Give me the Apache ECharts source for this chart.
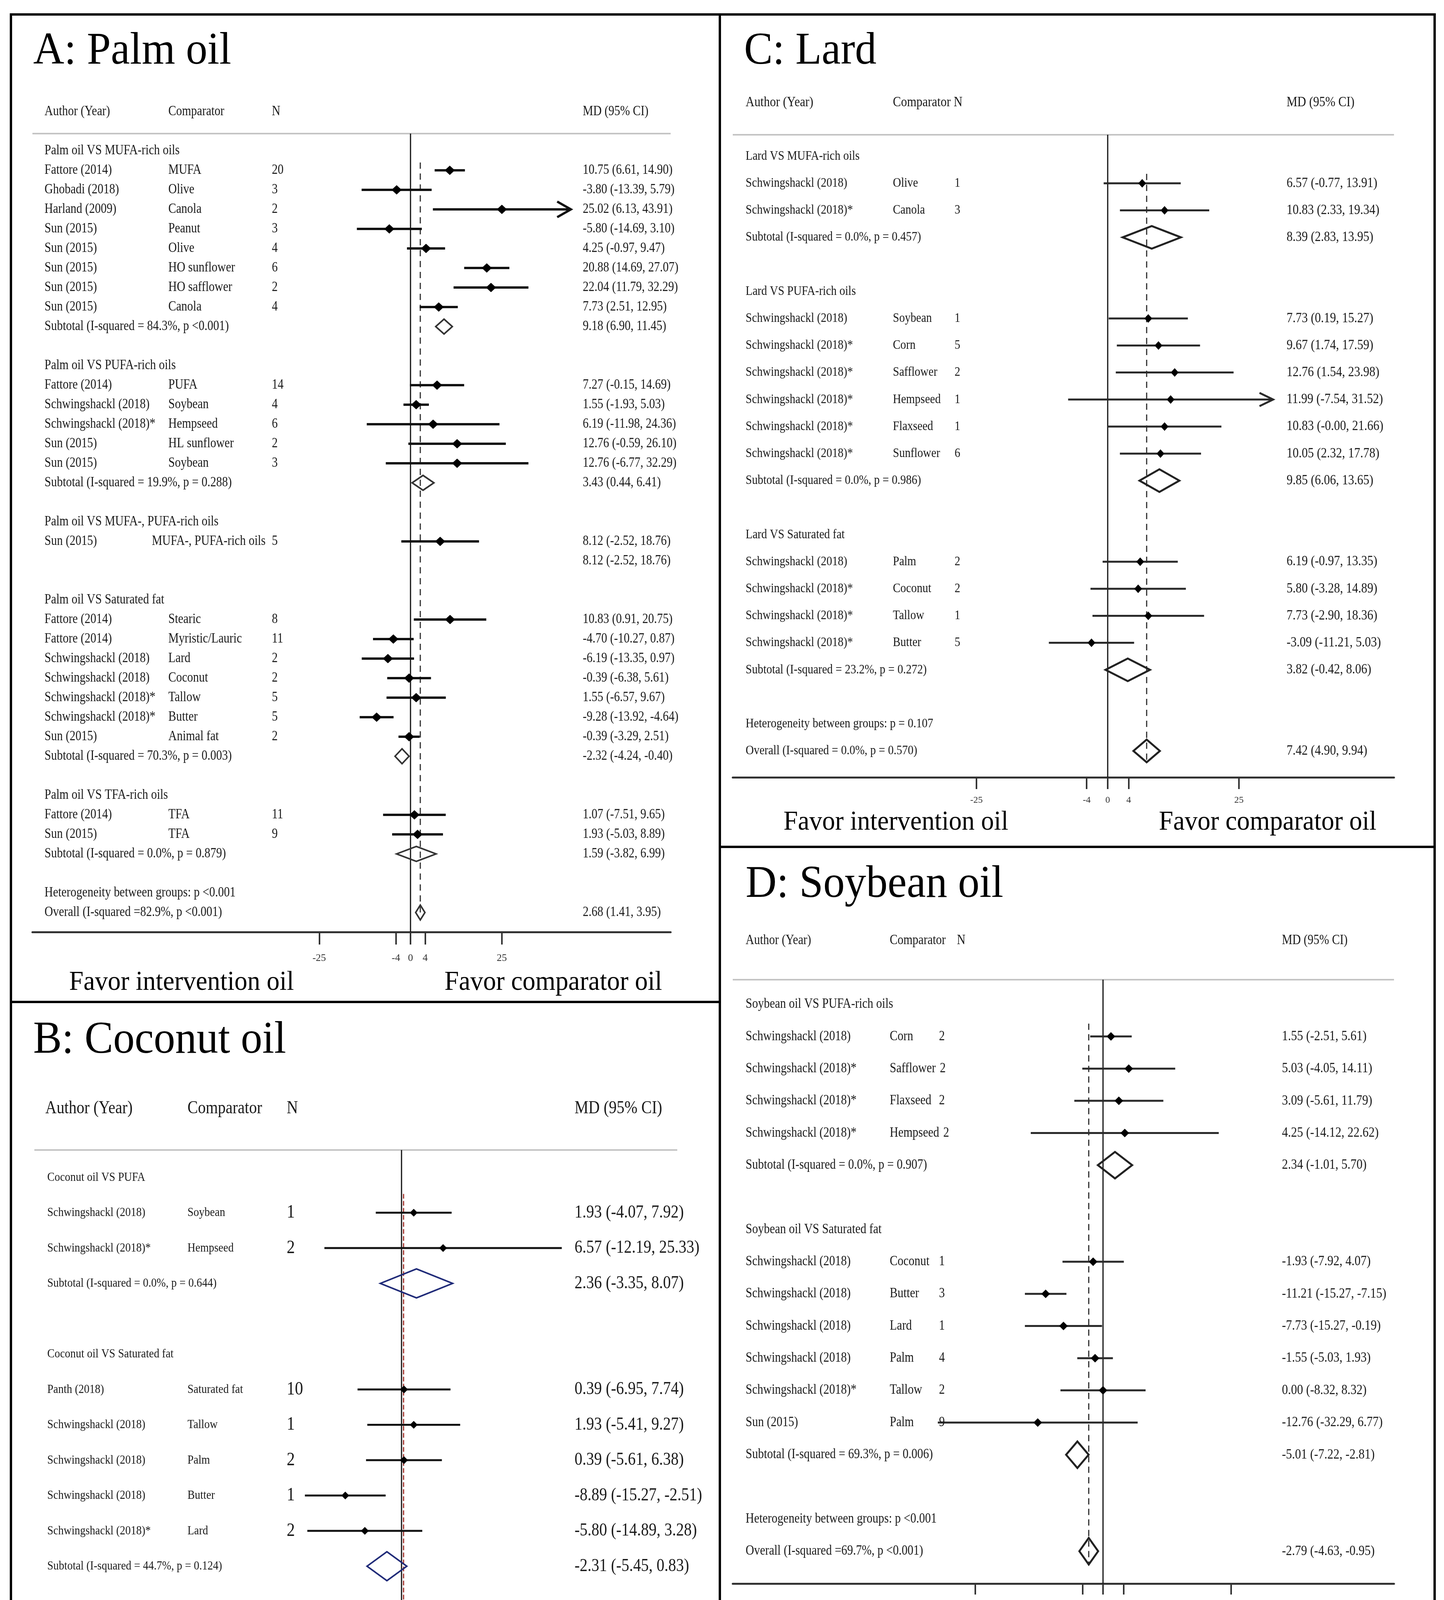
<!DOCTYPE html>
<html><head><meta charset="utf-8">
<script src="https://cdn.jsdelivr.net/npm/echarts@6/dist/echarts.min.js"></script>
<style>html,body{margin:0;padding:0;background:#fff}#c{width:3697px;height:5113px}</style>
</head><body><div id="c"></div>
<script>
// ---------------- data ----------------
const ticksMain = [-25, -4, 0, 4, 25];
const ticksRice = [-4, 0, 4];
const B_ = () => ['', '', '', null, null, null, 'b'];
const G_ = t => [t, '', '', null, null, null, 'g'];
const H_ = t => [t, '', '', null, null, null, 'h'];
// row: [label, comparator, N, md, lo, hi, kind]
// kinds: g group, s study, a study (arrow), t subtotal, u subtotal text only, h heterogeneity, o overall, b blank, x stray
const rowsPalm = [
  G_('Palm oil VS MUFA-rich oils'),
  ['Fattore (2014)', 'MUFA', '20', 10.75, 6.61, 14.90, 's'],
  ['Ghobadi (2018)', 'Olive', '3', -3.80, -13.39, 5.79, 's'],
  ['Harland (2009)', 'Canola', '2', 25.02, 6.13, 43.91, 'a'],
  ['Sun (2015)', 'Peanut', '3', -5.80, -14.69, 3.10, 's'],
  ['Sun (2015)', 'Olive', '4', 4.25, -0.97, 9.47, 's'],
  ['Sun (2015)', 'HO sunflower', '6', 20.88, 14.69, 27.07, 's'],
  ['Sun (2015)', 'HO safflower', '2', 22.04, 11.79, 32.29, 's'],
  ['Sun (2015)', 'Canola', '4', 7.73, 2.51, 12.95, 's'],
  ['Subtotal (I-squared = 84.3%, p <0.001)', '', '', 9.18, 6.90, 11.45, 't'],
  B_(),
  G_('Palm oil VS PUFA-rich oils'),
  ['Fattore (2014)', 'PUFA', '14', 7.27, -0.15, 14.69, 's'],
  ['Schwingshackl (2018)', 'Soybean', '4', 1.55, -1.93, 5.03, 's'],
  ['Schwingshackl (2018)*', 'Hempseed', '6', 6.19, -11.98, 24.36, 's'],
  ['Sun (2015)', 'HL sunflower', '2', 12.76, -0.59, 26.10, 's'],
  ['Sun (2015)', 'Soybean', '3', 12.76, -6.77, 32.29, 's'],
  ['Subtotal (I-squared = 19.9%, p = 0.288)', '', '', 3.43, 0.44, 6.41, 't'],
  B_(),
  G_('Palm oil VS MUFA-, PUFA-rich oils'),
  ['Sun (2015)', 'MUFA-, PUFA-rich oils', '5', 8.12, -2.52, 18.76, 's'],
  ['', '', '', 8.12, -2.52, 18.76, 'u'],
  B_(),
  G_('Palm oil VS Saturated fat'),
  ['Fattore (2014)', 'Stearic', '8', 10.83, 0.91, 20.75, 's'],
  ['Fattore (2014)', 'Myristic/Lauric', '11', -4.70, -10.27, 0.87, 's'],
  ['Schwingshackl (2018)', 'Lard', '2', -6.19, -13.35, 0.97, 's'],
  ['Schwingshackl (2018)', 'Coconut', '2', -0.39, -6.38, 5.61, 's'],
  ['Schwingshackl (2018)*', 'Tallow', '5', 1.55, -6.57, 9.67, 's'],
  ['Schwingshackl (2018)*', 'Butter', '5', -9.28, -13.92, -4.64, 's'],
  ['Sun (2015)', 'Animal fat', '2', -0.39, -3.29, 2.51, 's'],
  ['Subtotal (I-squared = 70.3%, p = 0.003)', '', '', -2.32, -4.24, -0.40, 't'],
  B_(),
  G_('Palm oil VS TFA-rich oils'),
  ['Fattore (2014)', 'TFA', '11', 1.07, -7.51, 9.65, 's'],
  ['Sun (2015)', 'TFA', '9', 1.93, -5.03, 8.89, 's'],
  ['Subtotal (I-squared = 0.0%, p = 0.879)', '', '', 1.59, -3.82, 6.99, 't'],
  B_(),
  H_('Heterogeneity between groups: p <0.001'),
  ['Overall (I-squared =82.9%, p <0.001)', '', '', 2.68, 1.41, 3.95, 'o']
];
const rowsCoconut = [
  G_('Coconut oil VS PUFA'),
  ['Schwingshackl (2018)', 'Soybean', '1', 1.93, -4.07, 7.92, 's'],
  ['Schwingshackl (2018)*', 'Hempseed', '2', 6.57, -12.19, 25.33, 's'],
  ['Subtotal (I-squared = 0.0%, p = 0.644)', '', '', 2.36, -3.35, 8.07, 't'],
  B_(),
  G_('Coconut oil VS Saturated fat'),
  ['Panth (2018)', 'Saturated fat', '10', 0.39, -6.95, 7.74, 's'],
  ['Schwingshackl (2018)', 'Tallow', '1', 1.93, -5.41, 9.27, 's'],
  ['Schwingshackl (2018)', 'Palm', '2', 0.39, -5.61, 6.38, 's'],
  ['Schwingshackl (2018)', 'Butter', '1', -8.89, -15.27, -2.51, 's'],
  ['Schwingshackl (2018)*', 'Lard', '2', -5.80, -14.89, 3.28, 's'],
  ['Subtotal (I-squared = 44.7%, p = 0.124)', '', '', -2.31, -5.45, 0.83, 't'],
  B_(),
  G_('Coconut oil VS MUFA-rich oils'),
  ['Ghobadi (2018)', 'Canola', '9', 16.50, 7.60, 25.40, 'a'],
  [')', '', '', null, null, null, 'x'],
  B_(),
  H_('Heterogeneity between groups: p <0.001'),
  ['Overall (I-squared = 70.0%, p = 0.001)', '', '', 0.32, -2.31, 2.94, 'o']
];
const rowsLard = [
  G_('Lard VS MUFA-rich oils'),
  ['Schwingshackl (2018)', 'Olive', '1', 6.57, -0.77, 13.91, 's'],
  ['Schwingshackl (2018)*', 'Canola', '3', 10.83, 2.33, 19.34, 's'],
  ['Subtotal (I-squared = 0.0%, p = 0.457)', '', '', 8.39, 2.83, 13.95, 't'],
  B_(),
  G_('Lard VS PUFA-rich oils'),
  ['Schwingshackl (2018)', 'Soybean', '1', 7.73, 0.19, 15.27, 's'],
  ['Schwingshackl (2018)*', 'Corn', '5', 9.67, 1.74, 17.59, 's'],
  ['Schwingshackl (2018)*', 'Safflower', '2', 12.76, 1.54, 23.98, 's'],
  ['Schwingshackl (2018)*', 'Hempseed', '1', 11.99, -7.54, 31.52, 'a'],
  ['Schwingshackl (2018)*', 'Flaxseed', '1', 10.83, -0.00, 21.66, 's'],
  ['Schwingshackl (2018)*', 'Sunflower', '6', 10.05, 2.32, 17.78, 's'],
  ['Subtotal (I-squared = 0.0%, p = 0.986)', '', '', 9.85, 6.06, 13.65, 't'],
  B_(),
  G_('Lard VS Saturated fat'),
  ['Schwingshackl (2018)', 'Palm', '2', 6.19, -0.97, 13.35, 's'],
  ['Schwingshackl (2018)*', 'Coconut', '2', 5.80, -3.28, 14.89, 's'],
  ['Schwingshackl (2018)*', 'Tallow', '1', 7.73, -2.90, 18.36, 's'],
  ['Schwingshackl (2018)*', 'Butter', '5', -3.09, -11.21, 5.03, 's'],
  ['Subtotal (I-squared = 23.2%, p = 0.272)', '', '', 3.82, -0.42, 8.06, 't'],
  B_(),
  H_('Heterogeneity between groups: p = 0.107'),
  ['Overall (I-squared = 0.0%, p = 0.570)', '', '', 7.42, 4.90, 9.94, 'o']
];
const rowsSoybean = [
  G_('Soybean oil VS PUFA-rich oils'),
  ['Schwingshackl (2018)', 'Corn', '2', 1.55, -2.51, 5.61, 's'],
  ['Schwingshackl (2018)*', 'Safflower', '2', 5.03, -4.05, 14.11, 's'],
  ['Schwingshackl (2018)*', 'Flaxseed', '2', 3.09, -5.61, 11.79, 's'],
  ['Schwingshackl (2018)*', 'Hempseed', '2', 4.25, -14.12, 22.62, 's'],
  ['Subtotal (I-squared = 0.0%, p = 0.907)', '', '', 2.34, -1.01, 5.70, 't'],
  B_(),
  G_('Soybean oil VS Saturated fat'),
  ['Schwingshackl (2018)', 'Coconut', '1', -1.93, -7.92, 4.07, 's'],
  ['Schwingshackl (2018)', 'Butter', '3', -11.21, -15.27, -7.15, 's'],
  ['Schwingshackl (2018)', 'Lard', '1', -7.73, -15.27, -0.19, 's'],
  ['Schwingshackl (2018)', 'Palm', '4', -1.55, -5.03, 1.93, 's'],
  ['Schwingshackl (2018)*', 'Tallow', '2', 0.00, -8.32, 8.32, 's'],
  ['Sun (2015)', 'Palm', '9', -12.76, -32.29, 6.77, 's'],
  ['Subtotal (I-squared = 69.3%, p = 0.006)', '', '', -5.01, -7.22, -2.81, 't'],
  B_(),
  H_('Heterogeneity between groups: p <0.001'),
  ['Overall (I-squared =69.7%, p <0.001)', '', '', -2.79, -4.63, -0.95, 'o']
];
const rowsRice = [
  G_('Rice bran oil VS Other oils'),
  ['Jolfaie (2016)', 'Vegetable oils', '11', -6.91, -10.24, -3.57, 's']
];

// ---------------- layout (pixels / styles) ----------------
const FONT = "'Liberation Serif', 'Times New Roman', serif";
const COND = 0.86; // horizontal condensing of small table text
const PANELS = [
  { rows: rowsPalm, ticks: ticksMain, title: 'A: Palm oil', titleX: 85, titleY: 133, box: [28, 37, 1843, 2565],
    xl: 83, xr: 1717, x0: 1051, sc: 9.35, y0: 386, sp: 50, grayY: 342, axisY: 2386,
    colX: [114, 431, 696, 1492], compRightX: 680, fs: 30, fsN: 30, fsMD: 30,
    heads: [['Author (Year)', 114], ['Comparator', 431], ['N', 696], ['MD (95% CI)', 1492]], headY: 286, fsHead: 30,
    fsTick: 26, tickLen: 32, tickMargin: 54, favorY: 2516, favorX: [177, 1138],
    ci: { w: 6, c: '#111' }, mk: [13, 12], dia: { h: 19, w: 4, c: '#333' }, arrow: [35, 20],
    zero: { w: 3, c: '#111' }, dash: { c: '#333', w: 3, d: [16, 12], start: 0.6, endPx: 0 } },
  { rows: rowsCoconut, ticks: ticksMain, title: 'B: Coconut oil', titleX: 85, titleY: 2665, box: [28, 2565, 1843, 5080],
    xl: 88, xr: 1734, x0: 1028, sc: 16.2, y0: 3014, sp: 90.5, grayY: 2944, axisY: 4736,
    colX: [121, 480, 734, 1471], fs: 28, fsN: 42, fsMD: 40, strayX: 1776,
    heads: [['Author (Year)', 116], ['Comparator', 480], ['N', 734], ['MD (95% CI)', 1471]], headY: 2838, fsHead: 40,
    fsTick: 30, tickLen: 31, tickMargin: 49, favorY: 5014, favorX: [206, 1170],
    ci: { w: 5, c: '#111' }, mk: [10, 10], dia: { h: 37, w: 4, c: '#1f2a78' }, arrow: [35, 20],
    zero: { w: 3, c: '#111' }, dash: { c: '#a0302a', w: 3, d: [12, 6], start: 0.47, endPx: 45 } },
  { rows: rowsLard, ticks: ticksMain, title: 'C: Lard', titleX: 1905, titleY: 133, box: [1843, 37, 3673, 2168],
    xl: 1876, xr: 3569, x0: 2836, sc: 13.44, y0: 400, sp: 69.2, grayY: 345, axisY: 1990,
    colX: [1909, 2286, 2444, 3294], fs: 29, fsN: 29, fsMD: 31,
    heads: [['Author (Year)', 1909], ['Comparator N', 2286], ['MD (95% CI)', 3294]], headY: 263, fsHead: 31,
    fsTick: 24, tickLen: 30, tickMargin: 47, favorY: 2106, favorX: [2006, 2967],
    ci: { w: 5, c: '#2a2a2a' }, mk: [10, 11], dia: { h: 29, w: 5, c: '#222' }, arrow: [35, 17],
    zero: { w: 3, c: '#111' }, dash: { c: '#333', w: 3, d: [16, 12], start: 0.65, endPx: 31 } },
  { rows: rowsSoybean, ticks: ticksMain, title: 'D: Soybean oil', titleX: 1909, titleY: 2266, box: [1843, 2168, 3673, 4290],
    xl: 1876, xr: 3569, x0: 2824, sc: 13.1, y0: 2571, sp: 82.36, grayY: 2508, axisY: 4054,
    colX: [1909, 2278, 2404, 3282], nAfterComp: true, fs: 30, fsN: 30, fsMD: 31,
    heads: [['Author (Year)', 1909], ['Comparator', 2278], ['N', 2450], ['MD (95% CI)', 3282]], headY: 2408, fsHead: 30,
    fsTick: 24, tickLen: 28, tickMargin: 43, favorY: 4201, favorX: [1968, 2930],
    ci: { w: 5, c: '#2a2a2a' }, mk: [11, 11], dia: { h: 34, w: 5, c: '#222' }, arrow: [35, 17],
    zero: { w: 3, c: '#111' }, dash: { c: '#333', w: 3, d: [16, 11], start: 0.6, endPx: 32 } },
  { rows: rowsRice, ticks: ticksRice, title: 'E: Rice bran oil', titleX: 1909, titleY: 4388, box: [1843, 4290, 3673, 5080],
    xl: 1881, xr: 3569, x0: 2805, sc: 41.1, y0: 4740, sp: 53, grayY: 4697, axisY: 4898,
    colX: [1899, 2116, 2335, 3247], fs: 33, fsN: 33, fsMD: 33,
    heads: [['Author (Year)', 1899], ['Comparator', 2116], ['N', 2335], ['MD (95% CI)', 3247]], headY: 4632, fsHead: 33,
    fsTick: 26, tickLen: 19, tickMargin: 33, favorY: 5021, favorX: [1994, 2959],
    ci: { w: 5, c: '#444' }, mk: [5, 7], dia: { h: 20, w: 4, c: '#222' }, arrow: [30, 15],
    zero: { w: 2, c: '#333' }, dash: null }
];

// ---------------- helpers ----------------
const fmt = v => (Object.is(v, -0) ? '-0.00' : v.toFixed(2));
const mdText = r => fmt(r[3]) + ' (' + fmt(r[4]) + ', ' + fmt(r[5]) + ')';
const mctx = document.createElement('canvas').getContext('2d');
function measure(s, fs) { mctx.font = fs + 'px ' + FONT; return mctx.measureText(s).width; }
// fs = effective (width) size; cond = horizontal squeeze so glyphs are taller than wide like the source
function txt(text, x, y, fs, align, color, cond) {
  const k = cond || 1;
  return { type: 'text', x: x, y: y, scaleX: k, silent: true,
    style: { text: text, fill: color || '#1a1a1a', fontSize: fs / k, fontFamily: FONT,
      align: align || 'left', textAlign: align || 'left', verticalAlign: 'middle', textVerticalAlign: 'middle' } };
}
const KIND_CODE = { s: 0, a: 1, t: 2, o: 3 };

const grids = [], xAxes = [], yAxes = [], series = [], graphics = [];

PANELS.forEach((L, gi) => {
  const yMin = (L.grayY - L.y0) / L.sp, yMax = (L.axisY - L.y0) / L.sp;
  grids.push({ left: L.xl, top: L.grayY, width: L.xr - L.xl, height: L.axisY - L.grayY, containLabel: false });
  xAxes.push({
    type: 'value', gridIndex: gi, min: (L.xl - L.x0) / L.sc, max: (L.xr - L.x0) / L.sc,
    splitLine: { show: false },
    axisLine: { show: true, onZero: false, lineStyle: { color: '#333', width: 5 } },
    axisTick: { show: true, customValues: L.ticks, length: L.tickLen, lineStyle: { color: '#333', width: 4 } },
    axisLabel: { show: true, customValues: L.ticks, margin: L.tickMargin, fontSize: L.fsTick, fontFamily: FONT, color: '#333' }
  });
  yAxes.push({ type: 'value', gridIndex: gi, inverse: true, min: yMin, max: yMax, show: false });

  // reference lines: zero line + dashed overall line
  const refData = [[0, yMin, yMax, 0]];
  const ovIdx = L.rows.findIndex(r => r[6] === 'o');
  if (L.dash && ovIdx >= 0) refData.push([L.rows[ovIdx][3], L.dash.start, ovIdx + L.dash.endPx / L.sp, 1]);
  series.push({
    type: 'custom', xAxisIndex: gi, yAxisIndex: gi, silent: true, animation: false, z: 2,
    data: refData,
    renderItem: (params, api) => {
      const p1 = api.coord([api.value(0), api.value(1)]);
      const p2 = api.coord([api.value(0), api.value(2)]);
      const isDash = api.value(3) === 1;
      return { type: 'line', shape: { x1: p1[0], y1: p1[1], x2: p2[0], y2: p2[1] },
        style: isDash ? { stroke: L.dash.c, lineWidth: L.dash.w, lineDash: L.dash.d }
                      : { stroke: L.zero.c, lineWidth: L.zero.w } };
    }
  });

  // marks: CIs, study diamonds, pooled diamonds
  const markData = [];
  L.rows.forEach((r, i) => { if (r[6] in KIND_CODE) markData.push([r[3], i, r[4], r[5], KIND_CODE[r[6]]]); });
  series.push({
    type: 'custom', xAxisIndex: gi, yAxisIndex: gi, silent: true, animation: false, z: 3,
    encode: { x: [0, 2, 3], y: 1 },
    data: markData,
    renderItem: (params, api) => {
      const row = api.value(1), k = api.value(4);
      const c = api.coord([api.value(0), row]);
      const lo = api.coord([api.value(2), row]);
      const hi = api.coord([api.value(3), row]);
      const y = c[1];
      if (k <= 1) {
        const ch = [
          { type: 'line', shape: { x1: lo[0], y1: y, x2: hi[0], y2: y }, style: { stroke: L.ci.c, lineWidth: L.ci.w } },
          { type: 'polygon', shape: { points: [[c[0] - L.mk[0], y], [c[0], y - L.mk[1]], [c[0] + L.mk[0], y], [c[0], y + L.mk[1]]] },
            style: { fill: '#000' } }
        ];
        if (k === 1) ch.push({ type: 'polyline',
          shape: { points: [[hi[0] - L.arrow[0], y - L.arrow[1]], [hi[0], y], [hi[0] - L.arrow[0], y + L.arrow[1]]] },
          style: { stroke: L.ci.c, lineWidth: L.ci.w, fill: 'none' } });
        return { type: 'group', children: ch };
      }
      return { type: 'polygon', shape: { points: [[lo[0], y], [c[0], y - L.dia.h], [hi[0], y], [c[0], y + L.dia.h]] },
        style: { fill: 'none', stroke: L.dia.c, lineWidth: L.dia.w } };
    }
  });

  // text columns
  series.push({
    type: 'custom', xAxisIndex: gi, yAxisIndex: gi, silent: true, animation: false, z: 4,
    data: L.rows.map((r, i) => [0, i]),
    renderItem: (params, api) => {
      const r = L.rows[params.dataIndex];
      const kind = r[6];
      if (kind === 'b') return null;
      const y = api.coord([0, api.value(1)])[1];
      const ch = [];
      if (kind === 'x') { ch.push(txt(r[0], L.strayX, y, L.fsMD, 'left', null, COND)); return { type: 'group', children: ch }; }
      if (r[0]) ch.push(txt(r[0], L.colX[0], y, L.fs, 'left', null, COND));
      if (kind === 's' || kind === 'a') {
        let cx = L.colX[1], cal = 'left';
        if (L.compRightX && r[1].length > 16) { cx = L.compRightX; cal = 'right'; }
        ch.push(txt(r[1], cx, y, L.fs, cal, null, COND));
        let nx = L.colX[2];
        if (L.nAfterComp) nx = Math.max(nx, L.colX[1] + measure(r[1], L.fs) + 0.35 * L.fs);
        ch.push(txt(r[2], nx, y, L.fsN, 'left', null, COND));
      }
      if (r[3] !== null) ch.push(txt(mdText(r), L.colX[3], y, L.fsMD, 'left', null, COND));
      return { type: 'group', children: ch };
    }
  });

  // static panel graphics
  const bx = L.box;
  graphics.push({ type: 'rect', shape: { x: bx[0], y: bx[1], width: bx[2] - bx[0], height: bx[3] - bx[1] },
    style: { fill: 'none', stroke: '#000', lineWidth: 6 }, silent: true, z: 10 });
  graphics.push(txt(L.title, L.titleX, L.titleY, 110, 'left', '#000', 0.95));
  L.heads.forEach(hd => graphics.push(txt(hd[0], hd[1], L.headY, L.fsHead, 'left', null, COND)));
  graphics.push({ type: 'line', shape: { x1: L.xl, y1: L.grayY, x2: L.xr, y2: L.grayY },
    style: { stroke: '#c4c4c4', lineWidth: 4 }, silent: true });
  graphics.push(txt('Favor intervention oil', L.favorX[0], L.favorY, 66, 'left', '#000', 0.95));
  graphics.push(txt('Favor comparator oil', L.favorX[1], L.favorY, 66, 'left', '#000', 0.95));
});

const chart = echarts.init(document.getElementById('c'), null, { renderer: 'canvas' });
chart.setOption({
  backgroundColor: '#fff',
  animation: false,
  grid: grids, xAxis: xAxes, yAxis: yAxes, series: series,
  graphic: { elements: graphics }
});
</script>
</body></html>
